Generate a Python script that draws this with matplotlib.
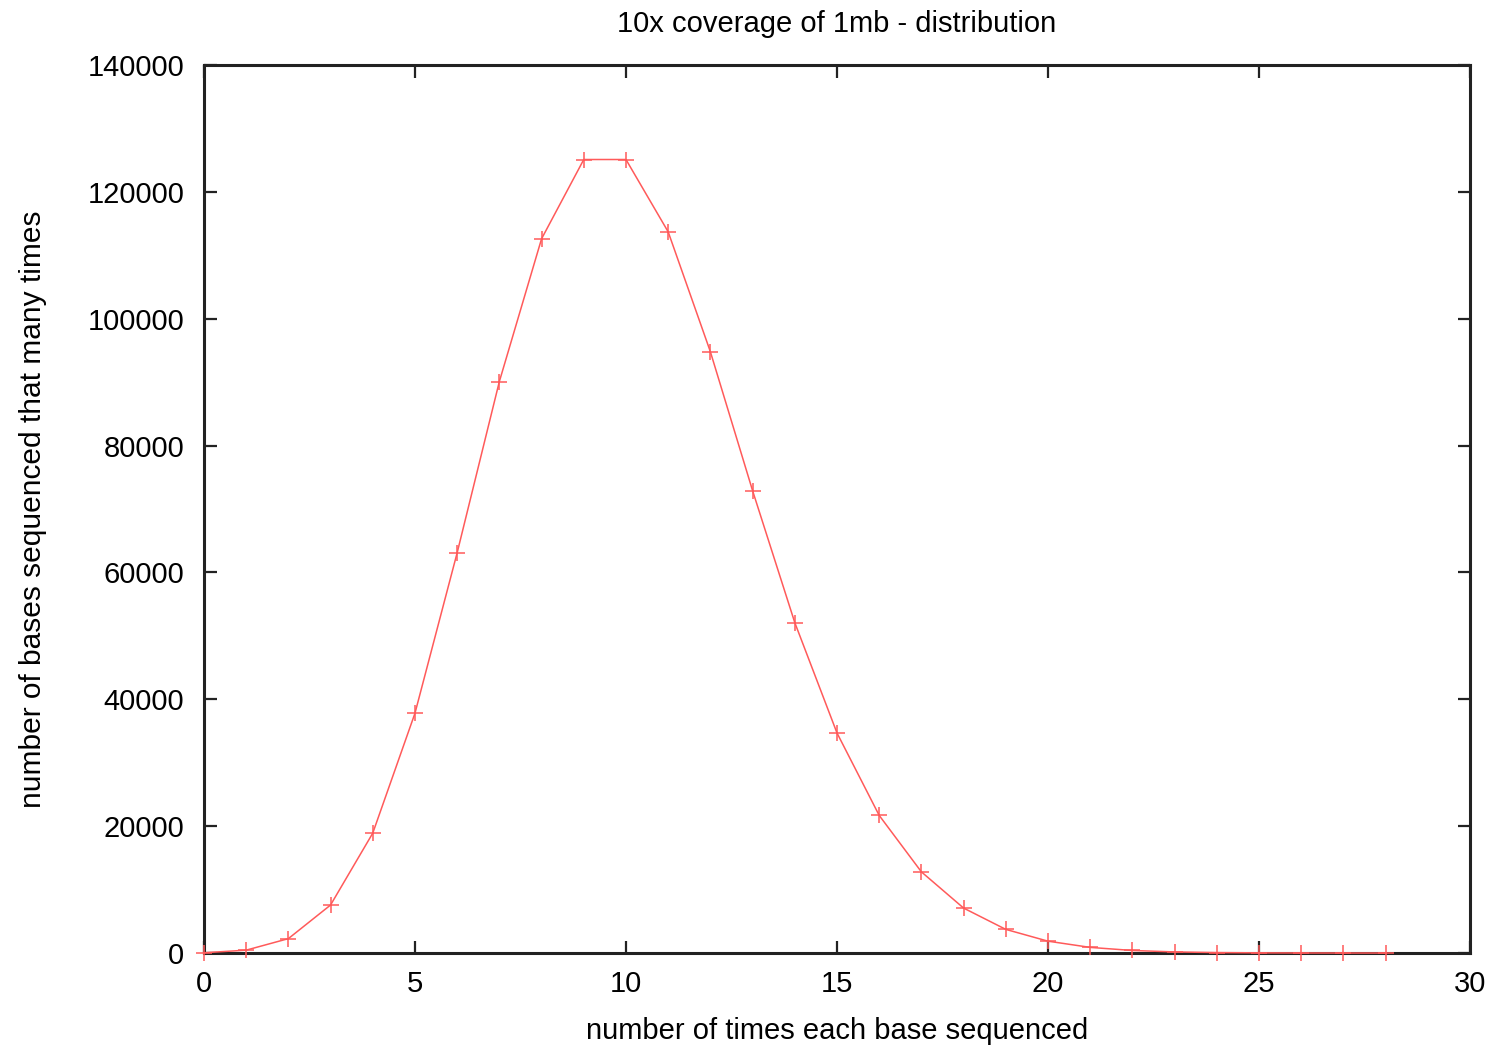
import matplotlib
matplotlib.use("Agg")
import matplotlib.pyplot as plt

# number of times each base sequenced, and how many bases got that coverage
coverage = list(range(0, 29))
bases = [45, 454, 2270, 7570, 18900, 37800, 63100, 90100, 112600, 125100,
         125100, 113700, 94800, 72900, 52100, 34700, 21700, 12800, 7090, 3730,
         1870, 890, 404, 176, 73, 29, 11, 4, 1]

plt.rcParams['font.family'] = ['Liberation Sans', 'DejaVu Sans']

fig = plt.figure(figsize=(15.04, 10.45), dpi=100)
ax = fig.add_axes([0.1356, 0.088, 0.8418, 0.8498])

ax.plot(coverage, bases, color='#ff5a5a', linewidth=1.1, marker='+',
        markersize=12, markeredgewidth=1.1, clip_on=False, zorder=3)

ax.set_xlim(0, 30)
ax.set_ylim(0, 140000)
ax.set_xticks(range(0, 31, 5))
ax.set_yticks(range(0, 140001, 20000))

for s in ax.spines.values():
    s.set_linewidth(2.2)
    s.set_color('#222222')
ax.tick_params(direction='in', length=9, width=1.6, color='#222222',
               top=True, right=True, labelsize=21)
ax.tick_params(axis='x', pad=12)
ax.tick_params(axis='y', pad=14)

ax.set_title('10x coverage of 1mb - distribution', fontsize=21, pad=24)
ax.set_xlabel('number of times each base sequenced', fontsize=21, labelpad=14)
ax.set_ylabel('number of bases sequenced that many times', fontsize=21.5, labelpad=29)

fig.savefig('out.png', dpi=100)
